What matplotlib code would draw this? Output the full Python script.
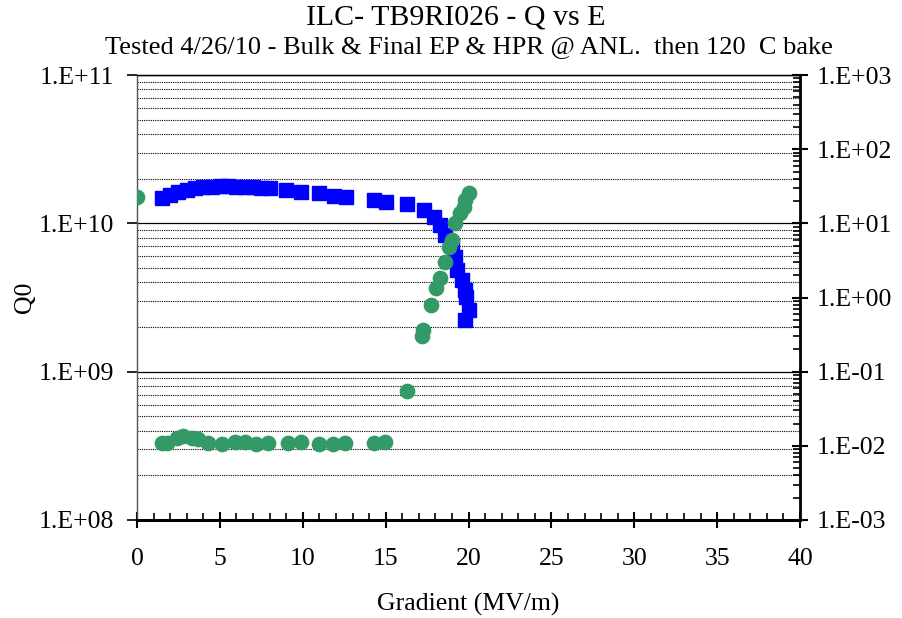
import matplotlib
matplotlib.use("Agg")
import matplotlib.pyplot as plt
from matplotlib.ticker import LogLocator, FuncFormatter, MultipleLocator, NullFormatter
import numpy as np

plt.rcParams['font.family'] = ['Liberation Serif', 'DejaVu Serif']

# Q0 vs gradient (left axis)
q_E = [1.5, 2.0, 2.5, 3.0, 3.5, 4.0, 4.5, 5.0, 5.5, 6.0, 6.5, 7.0, 7.5, 8.0,
       9.0, 9.9, 11.0, 11.9, 12.6, 14.3, 15.0, 16.3, 17.3, 17.9, 18.3, 18.6,
       19.0, 19.2, 19.3, 19.6, 19.8, 19.85, 20.0, 19.8]
q_Q0 = [1.48e10, 1.55e10, 1.62e10, 1.68e10, 1.72e10, 1.75e10, 1.77e10, 1.78e10,
        1.78e10, 1.77e10, 1.76e10, 1.75e10, 1.73e10, 1.72e10,
        1.68e10, 1.62e10, 1.59e10, 1.53e10, 1.51e10, 1.44e10, 1.40e10, 1.34e10,
        1.23e10, 1.11e10, 9.75e9, 8.35e9, 7.14e9, 5.96e9, 4.84e9, 4.15e9,
        3.55e9, 3.2e9, 2.6e9, 2.23e9]

# Radiation vs gradient (right axis)
r_E = [0.0, 1.5, 1.8, 2.4, 2.8, 3.3, 3.7, 4.3, 5.1, 5.9, 6.5, 7.2, 7.9,
       9.1, 9.9, 11.0, 11.8, 12.55, 14.3, 14.96,
       16.3, 17.2, 17.25, 17.75, 18.05, 18.25, 18.6, 18.8, 19.0, 19.2,
       19.5, 19.7, 19.8, 20.0]
r_R = [22.6, 0.0110, 0.0108, 0.0126, 0.0136, 0.0126, 0.0122, 0.0110, 0.0106,
       0.0112, 0.0114, 0.0105, 0.0108, 0.0108, 0.0114, 0.0106, 0.0106, 0.0108,
       0.0108, 0.0112,
       0.0555, 0.30, 0.36, 0.79, 1.33, 1.82, 3.04, 4.84, 5.96, 10.0,
       13.6, 16.7, 20.6, 25.4]

fig = plt.figure(figsize=(9.02, 6.18), dpi=100)
ax = fig.add_axes([0.1519, 0.1586, 0.887 - 0.1519, 0.8786 - 0.1586])
ax2 = ax.twinx()

ax.set_xlim(0, 40)
ax.set_yscale('log')
ax.set_ylim(1e8, 1e11)
ax2.set_yscale('log')
ax2.set_ylim(1e-3, 1e3)

ax.plot(q_E, q_Q0, linestyle='none', marker='s', markersize=9.5, color='#0000ff',
        markeredgecolor='#0000ff', zorder=3)
ax2.plot(r_E, r_R, linestyle='none', marker='o', markersize=10.3, color='#339966',
         markeredgecolor='#339966', zorder=3)

# grid
ax.yaxis.set_major_locator(LogLocator(base=10, numticks=10))
ax.yaxis.set_minor_locator(LogLocator(base=10, subs=np.arange(2, 10), numticks=20))
ax.yaxis.set_minor_formatter(NullFormatter())
ax.grid(axis='y', which='major', color='black', linewidth=0.9, linestyle='-')
ax.grid(axis='y', which='minor', color='black', linewidth=0.8, linestyle=(0, (1, 1)))
ax.set_axisbelow(True)

def fmt(v, pos):
    e = int(round(np.log10(v)))
    return "1.E%+03d" % e

ax.yaxis.set_major_formatter(FuncFormatter(fmt))
ax2.yaxis.set_major_locator(LogLocator(base=10, numticks=10))
ax2.yaxis.set_minor_locator(LogLocator(base=10, subs=np.arange(2, 10), numticks=20))
ax2.yaxis.set_minor_formatter(NullFormatter())
ax2.yaxis.set_major_formatter(FuncFormatter(fmt))

ax.xaxis.set_major_locator(MultipleLocator(5))
ax.xaxis.set_minor_locator(MultipleLocator(1))

ax.tick_params(axis='x', which='major', direction='inout', length=12, width=1.5,
               labelsize=18.5, pad=14, colors='black')
ax.tick_params(axis='x', which='minor', direction='in', length=5, width=1.2)
ax.tick_params(axis='y', which='major', direction='out', length=7, width=1.2,
               labelsize=18.5, pad=9.5)
ax.tick_params(axis='y', which='minor', length=0)
ax2.tick_params(axis='y', which='major', direction='inout', length=12, width=1.5,
                labelsize=18.5, pad=6)
ax2.tick_params(axis='y', which='minor', direction='in', length=5, width=1.2)

for s in ['top']:
    ax.spines[s].set_linewidth(0.9)
    ax2.spines[s].set_linewidth(0.9)
ax.spines['left'].set_linewidth(1.0)
ax.spines['left'].set_color('#555555')
ax2.spines['left'].set_visible(False)
ax2.spines['right'].set_linewidth(2.0)
ax.spines['right'].set_visible(False)
ax2.spines['bottom'].set_linewidth(2.0)
ax.spines['bottom'].set_linewidth(2.0)

ax.set_xlabel('Gradient (MV/m)', fontsize=18.5, labelpad=17)
ax.set_ylabel('Q0', fontsize=18.5, labelpad=2)

fig.text(0.505, 0.971, 'ILC- TB9RI026 - Q vs E',
         ha='center', va='center', fontsize=21.5)
fig.text(0.52, 0.924,
         'Tested 4/26/10 - Bulk & Final EP & HPR @ ANL.  then 120  C bake',
         ha='center', va='center', fontsize=19)

fig.savefig('out.png', dpi=100)
